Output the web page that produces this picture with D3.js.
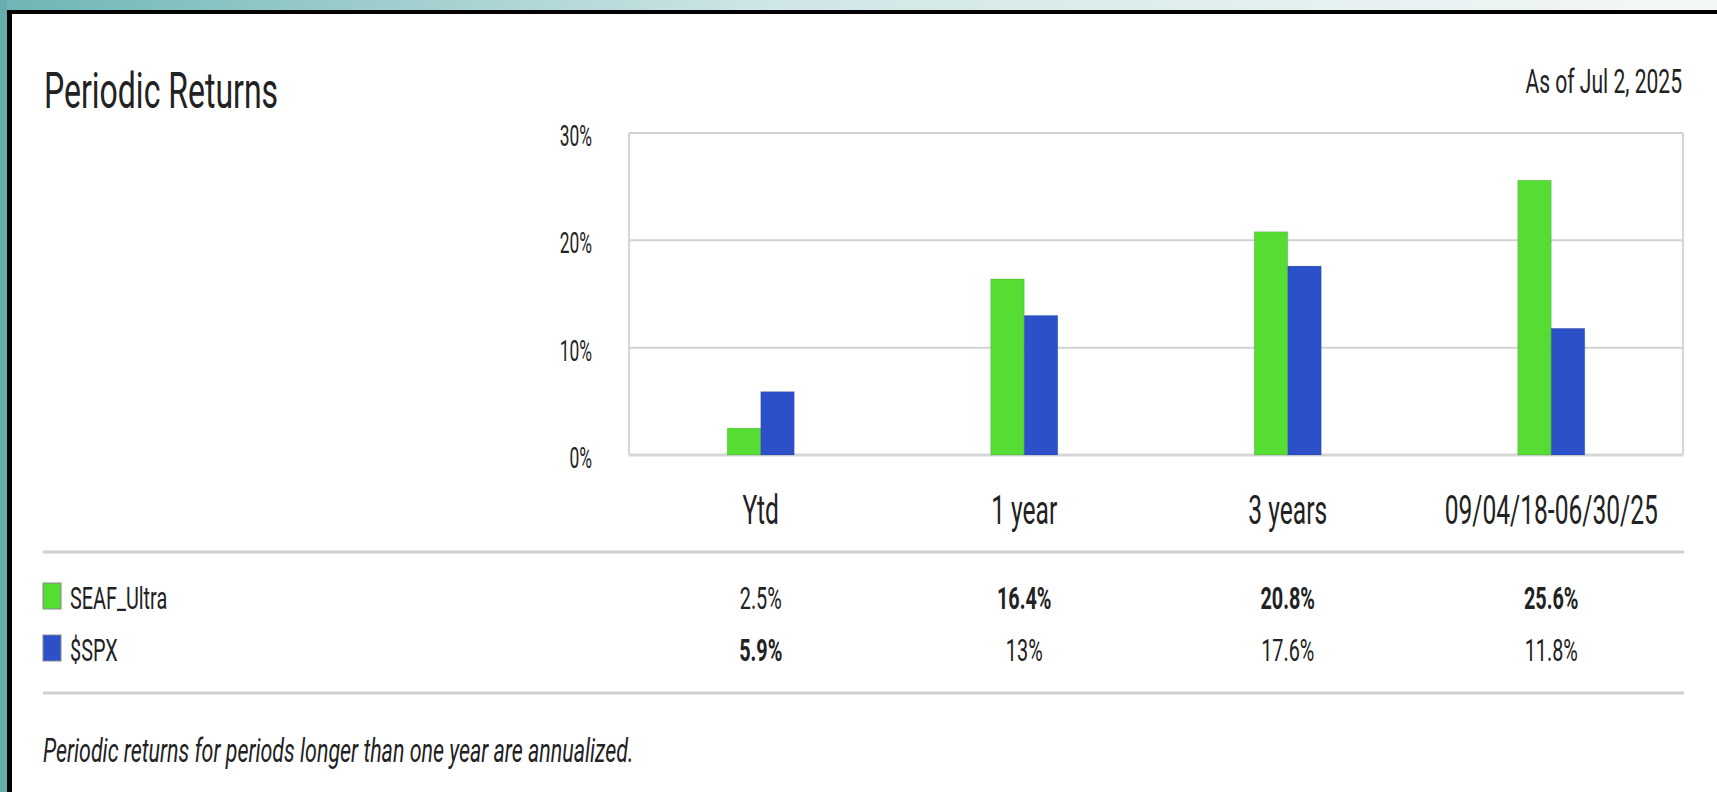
<!DOCTYPE html>
<html lang="en">
<head>
  <meta charset="utf-8">
  <title>Periodic Returns</title>
  <style>
    body {
      margin: 0;
      background: #fff;
      font-family: Roboto, "Noto Sans", sans-serif;
    }
    svg { display: block; }
    .dark { fill: #222; }
  </style>
</head>
<body>
  <div id="chart"></div>

  <script src="https://d3js.org/d3.v7.min.js"></script>
  <script>
    // Chart data
    var periods = ["Ytd", "1 year", "3 years", "09/04/18-06/30/25"];
    var seriesNames = ["SEAF_Ultra", "$SPX"];
    var seafUltra = [2.5, 16.4, 20.8, 25.6];
    var spx = [5.9, 13, 17.6, 11.8];
    var yTicks = [0, 10, 20, 30];
    var seriesColors = ["#55dd33", "#2b50c8"];

    var W = 1717, H = 792;
    var squish = 0.62; // the screenshot is horizontally condensed

    var svg = d3.select("#chart").append("svg")
      .attr("width", W)
      .attr("height", H);

    // Background frame: teal strips + black border
    var defs = svg.append("defs");
    var grad = defs.append("linearGradient").attr("id", "topStrip")
      .attr("x1", "0").attr("x2", "1").attr("y1", "0").attr("y2", "0");
    grad.append("stop").attr("offset", "0%").attr("stop-color", "#6fb5b5");
    grad.append("stop").attr("offset", "45%").attr("stop-color", "#cfe6e6");
    grad.append("stop").attr("offset", "100%").attr("stop-color", "#f4f7f7");

    svg.append("rect").attr("x", 0).attr("y", 0).attr("width", W).attr("height", 10)
      .attr("fill", "url(#topStrip)");
    svg.append("rect").attr("x", 0).attr("y", 0).attr("width", 7).attr("height", H)
      .attr("fill", "#68adad");
    svg.append("rect").attr("x", 7).attr("y", 10).attr("width", W - 7).attr("height", 4)
      .attr("fill", "#000");
    svg.append("rect").attr("x", 7).attr("y", 10).attr("width", 5).attr("height", H - 10)
      .attr("fill", "#000");

    // helper for condensed text
    function label(x, y, txt, size, anchor, weight, style, sx) {
      return svg.append("text")
        .attr("class", "dark")
        .attr("transform", "translate(" + x + "," + y + ") scale(" + (sx || squish) + ",1)")
        .attr("text-anchor", anchor || "start")
        .style("font-size", size + "px")
        .style("font-weight", weight || "normal")
        .style("font-style", style || "normal")
        .text(txt);
    }

    // Titles
    label(44, 108, "Periodic Returns", 50, "start", "normal", "normal", 0.64);
    label(1682, 93, "As of Jul 2, 2025", 34, "end");

    // Scales
    var plot = { left: 629, right: 1683, top: 133, bottom: 455 };

    var xScale = d3.scaleBand()
      .domain(periods)
      .range([plot.left, plot.right]);

    var xInner = d3.scaleBand()
      .domain(seriesNames)
      .range([xScale.bandwidth() / 2 - 33.5, xScale.bandwidth() / 2 + 33.5]);

    var yScale = d3.scaleLinear()
      .domain([0, 30])
      .range([plot.bottom, plot.top]);

    // Grid lines
    svg.append("g").selectAll("line")
      .data(yTicks)
      .join("line")
      .attr("x1", plot.left)
      .attr("x2", plot.right)
      .attr("y1", function (d) { return yScale(d); })
      .attr("y2", function (d) { return yScale(d); })
      .attr("stroke", function (d) { return d === 0 ? "#d6d6d6" : "#d2d2d2"; })
      .attr("stroke-width", function (d) { return d === 0 ? 3 : 2; });

    // plot side borders
    [plot.left, plot.right].forEach(function (x) {
      svg.append("line")
        .attr("x1", x).attr("x2", x)
        .attr("y1", plot.top).attr("y2", plot.bottom)
        .attr("stroke", "#d6d6d6")
        .attr("stroke-width", 2);
    });

    // Y tick labels
    yTicks.forEach(function (t) {
      label(592, yScale(t) + 13, t + "%", 30, "end", "normal", "normal", 0.58);
    });

    // Bars
    var table = periods.map(function (p, i) {
      return { period: p, values: [seafUltra[i], spx[i]] };
    });

    var groups = svg.append("g").selectAll("g")
      .data(table)
      .join("g")
      .attr("transform", function (d) { return "translate(" + xScale(d.period) + ",0)"; });

    groups.selectAll("rect")
      .data(function (d) {
        return d.values.map(function (v, j) { return { name: seriesNames[j], value: v, idx: j }; });
      })
      .join("rect")
      .attr("x", function (d) { return xInner(d.name); })
      .attr("width", xInner.bandwidth())
      .attr("y", function (d) { return yScale(d.value); })
      .attr("height", function (d) { return yScale(0) - yScale(d.value); })
      .attr("fill", function (d) { return seriesColors[d.idx]; })
      .attr("stroke", "rgba(0,0,0,0.12)")
      .attr("stroke-width", 1);

    // Category labels
    periods.forEach(function (p) {
      label(xScale(p) + xScale.bandwidth() / 2, 524, p, 41, "middle", "normal", "normal", 0.6);
    });

    // Table
    var tableLeft = 43, tableRight = 1684;
    [552, 693].forEach(function (y) {
      svg.append("line")
        .attr("x1", tableLeft).attr("x2", tableRight)
        .attr("y1", y).attr("y2", y)
        .attr("stroke", "#cfcfcf")
        .attr("stroke-width", 3);
    });

    var rowBaselines = [609, 661];
    var seriesData = [seafUltra, spx];

    seriesNames.forEach(function (name, j) {
      var base = rowBaselines[j];
      svg.append("rect")
        .attr("x", 43).attr("y", base - 26)
        .attr("width", 18).attr("height", 26)
        .attr("fill", seriesColors[j])
        .attr("stroke", "#888")
        .attr("stroke-width", 1);
      label(70, base, name, 32);

      periods.forEach(function (p, i) {
        var best = d3.max(seriesData, function (s) { return s[i]; });
        var v = seriesData[j][i];
        label(xScale(p) + xScale.bandwidth() / 2, base, v + "%", 32, "middle",
          v === best ? "bold" : "normal");
      });
    });

    // Footnote
    label(43, 762, "Periodic returns for periods longer than one year are annualized.", 34,
      "start", "normal", "italic", 0.63);
  </script>
</body>
</html>
